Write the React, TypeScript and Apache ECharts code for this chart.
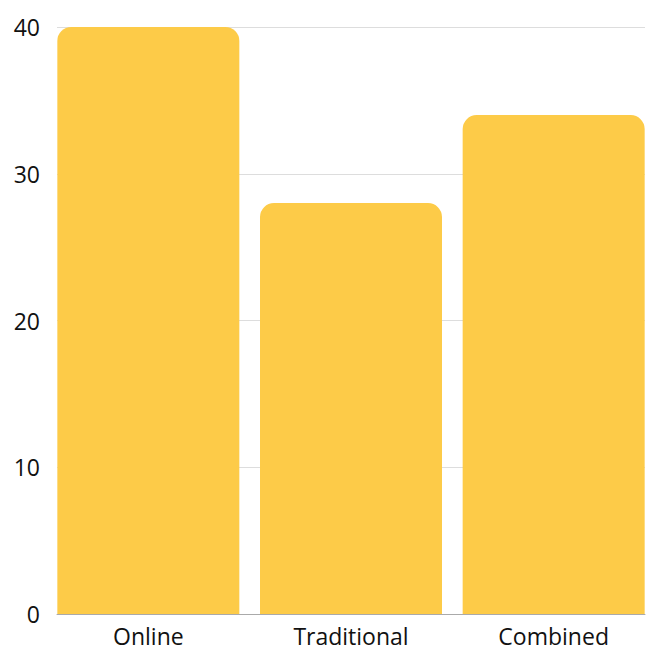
import React, { useEffect, useRef } from "react";
import * as echarts from "echarts";

const categories = ["Online", "Traditional", "Combined"];
const values = [40, 28, 34];
const yTicks = { min: 0, max: 40, interval: 10 };

const FONT = "'Open Sans', 'Noto Sans', sans-serif";
const BAR_COLOR = "#FDCB48";

export default function App() {
  const ref = useRef<HTMLDivElement>(null);
  useEffect(() => {
    if (!ref.current) return;
    const chart = echarts.init(ref.current, null, { renderer: "svg" });
    chart.setOption({
      animation: false,
      backgroundColor: "#ffffff",
      textStyle: { fontFamily: FONT },
      grid: [
        { left: 57, right: 23, top: 27, bottom: 48, containLabel: false },
        { left: 47, right: 13, top: 27, bottom: 48, containLabel: false },
      ],
      xAxis: [
        {
          type: "category",
          gridIndex: 0,
          data: categories,
          axisLine: { show: true, lineStyle: { color: "#AAAAAA", width: 1 } },
          axisTick: { show: false },
          axisLabel: { show: false },
          splitLine: { show: false },
        },
        {
          type: "category",
          gridIndex: 1,
          data: categories,
          axisLine: { show: false },
          axisTick: { show: false },
          axisLabel: {
            show: true,
            color: "#111111",
            fontSize: 23,
            fontFamily: FONT,
            margin: 10,
          },
          splitLine: { show: false },
        },
      ],
      yAxis: [
        {
          type: "value",
          gridIndex: 0,
          min: yTicks.min,
          max: yTicks.max,
          interval: yTicks.interval,
          axisLine: { show: false },
          axisTick: { show: false },
          axisLabel: {
            color: "#111111",
            fontSize: 23,
            fontFamily: FONT,
            margin: 17,
          },
          splitLine: { show: true, lineStyle: { color: "#DDDDDD", width: 1 } },
        },
        {
          type: "value",
          gridIndex: 1,
          min: yTicks.min,
          max: yTicks.max,
          interval: yTicks.interval,
          show: false,
          splitLine: { show: false },
        },
      ],
      series: [
        {
          type: "bar",
          xAxisIndex: 1,
          yAxisIndex: 1,
          data: values,
          barWidth: 182,
          itemStyle: { color: BAR_COLOR, borderRadius: [14, 14, 0, 0] },
        },
      ],
    });
    return () => chart.dispose();
  }, []);
  return (
    <div
      ref={ref}
      style={{ position: "absolute", left: 0, top: 0, width: 668, height: 662 }}
    />
  );
}
